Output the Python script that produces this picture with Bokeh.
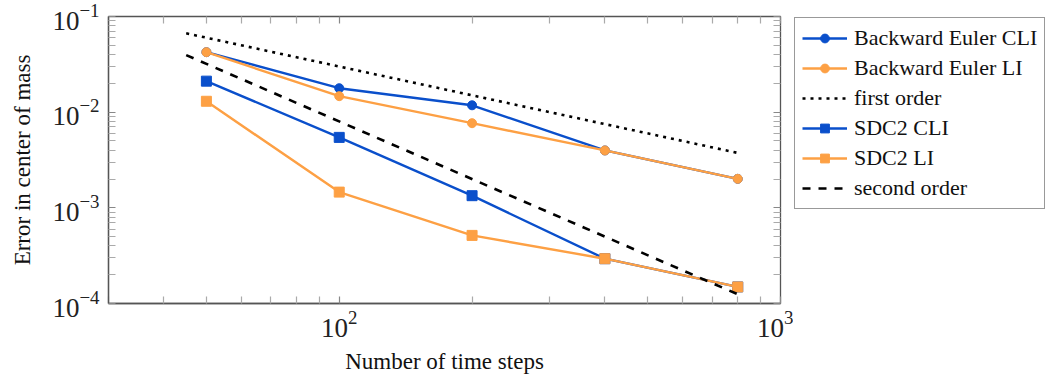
from bokeh.plotting import figure
from bokeh.models import LogAxis, FixedTicker, Legend, LegendItem
from bokeh.layouts import row
from bokeh.embed import file_html
from bokeh.resources import INLINE

# ---- data ----
steps = [50, 100, 200, 400, 800]
be_cli = [0.0424, 0.0178, 0.0118, 0.00398, 0.00201]
be_li = [0.0424, 0.0147, 0.00767, 0.00398, 0.00201]
sdc2_cli = [0.0211, 0.00545, 0.00134, 0.000294, 0.000149]
sdc2_li = [0.0130, 0.00146, 0.000515, 0.000294, 0.000149]
ref_steps = [45, 800]
first_order = [0.0667, 0.00375]
second_order = [0.0395, 0.000125]

labels = ["Backward Euler CLI", "Backward Euler LI", "first order",
          "SDC2 CLI", "SDC2 LI", "second order"]

x_major = [100, 1000]
y_major = [1e-4, 1e-3, 1e-2, 1e-1]
x_minor = [m * 10 ** e for e in (1, 2) for m in range(2, 10)]
y_minor = [m * 10.0 ** e for e in (-4, -3, -2) for m in range(2, 10)]

BLUE = "#0a4fcb"
ORANGE = "#fda044"
FONT = "Liberation Serif"
FRAME = "#555555"
LW = 2.4

p = figure(width=793, height=377, x_axis_type="log", y_axis_type="log",
           x_range=(30, 1000), y_range=(1e-4, 1e-1),
           output_backend="svg", toolbar_location=None,
           min_border_left=108, min_border_top=16, min_border_bottom=74,
           min_border_right=13)
p.xgrid.visible = False
p.ygrid.visible = False
p.outline_line_color = FRAME
p.outline_line_width = 1.3
p.background_fill_color = "white"

def style_axis(ax, ticks, minor, show_labels):
    ax.ticker = FixedTicker(ticks=ticks, minor_ticks=minor)
    ax.axis_line_color = FRAME
    ax.axis_line_width = 1.3
    ax.major_tick_in = 7
    ax.major_tick_out = 0
    ax.minor_tick_in = 7
    ax.minor_tick_out = 0
    ax.major_tick_line_color = "#888888"
    ax.minor_tick_line_color = "#aaaaaa"
    ax.major_tick_line_width = 1.2
    ax.minor_tick_line_width = 1.2
    if show_labels:
        ax.major_label_text_font = FONT
        ax.major_label_text_font_size = "27px"
        ax.major_label_text_color = "#222222"
        ax.axis_label_text_font = FONT
        ax.axis_label_text_font_size = "23px"
        ax.axis_label_text_font_style = "normal"
        ax.axis_label_text_color = "#111111"
    else:
        ax.major_label_text_font_size = "1px"
        ax.major_label_text_alpha = 0
        ax.major_label_standoff = 0

style_axis(p.xaxis[0], x_major, x_minor, True)
style_axis(p.yaxis[0], y_major, y_minor, True)
p.xaxis[0].axis_label = "Number of time steps"
p.yaxis[0].axis_label = "Error in center of mass"
p.xaxis[0].major_label_standoff = 7
p.xaxis[0].axis_label_standoff = 9
p.yaxis[0].major_label_standoff = 9
p.yaxis[0].axis_label_standoff = 14

top = LogAxis()
style_axis(top, x_major, x_minor, False)
top.axis_line_color = None
p.add_layout(top, "above")
right = LogAxis()
style_axis(right, y_major, y_minor, False)
right.axis_line_color = None
p.add_layout(right, "right")

series = [
    (steps, be_cli, BLUE, "circle", None),
    (steps, be_li, ORANGE, "circle", None),
    (ref_steps, first_order, "black", None, "3 5"),
    (steps, sdc2_cli, BLUE, "square", None),
    (steps, sdc2_li, ORANGE, "square", None),
    (ref_steps, second_order, "black", None, "8 8"),
]

def draw(fig, xs, ys, color, marker, dash):
    rs = []
    if dash is None:
        rs.append(fig.line(xs, ys, line_color=color, line_width=LW))
    else:
        rs.append(fig.line(xs, ys, line_color=color, line_width=2.6, line_dash=dash))
    if marker is not None:
        size = 9 if marker == "circle" else 10
        rs.append(fig.scatter(xs, ys, marker=marker, size=size,
                              fill_color=color, line_color=color))
    return rs

for xs, ys, color, marker, dash in series:
    draw(p, xs, ys, color, marker, dash)

# legend panel: an axis-less figure whose (off-view) copies of the series feed the legend
lf = figure(width=266, height=377, x_range=(0, 1), y_range=(0, 1),
            output_backend="svg", toolbar_location=None,
            x_axis_location=None, y_axis_location=None,
            min_border_left=0, min_border_right=0, min_border_top=15,
            min_border_bottom=0)
lf.xgrid.visible = False
lf.ygrid.visible = False
lf.outline_line_color = None

items = []
for lab, (xs, ys, color, marker, dash) in zip(labels, series):
    rs = draw(lf, xs, ys, color, marker, dash)
    items.append(LegendItem(label=lab, renderers=rs))

legend = Legend(items=items, location="top_left")
legend.border_line_color = "#333333"
legend.border_line_width = 1.3
legend.padding = 7
legend.spacing = 4
legend.label_height = 22
legend.glyph_height = 22
legend.glyph_width = 45
legend.label_standoff = 7
legend.margin = 1
legend.label_text_font = FONT
legend.label_text_font_size = "22px"
legend.label_text_color = "#111111"
lf.add_layout(legend)

open("out.html", "w").write(file_html(row(p, lf), INLINE))
